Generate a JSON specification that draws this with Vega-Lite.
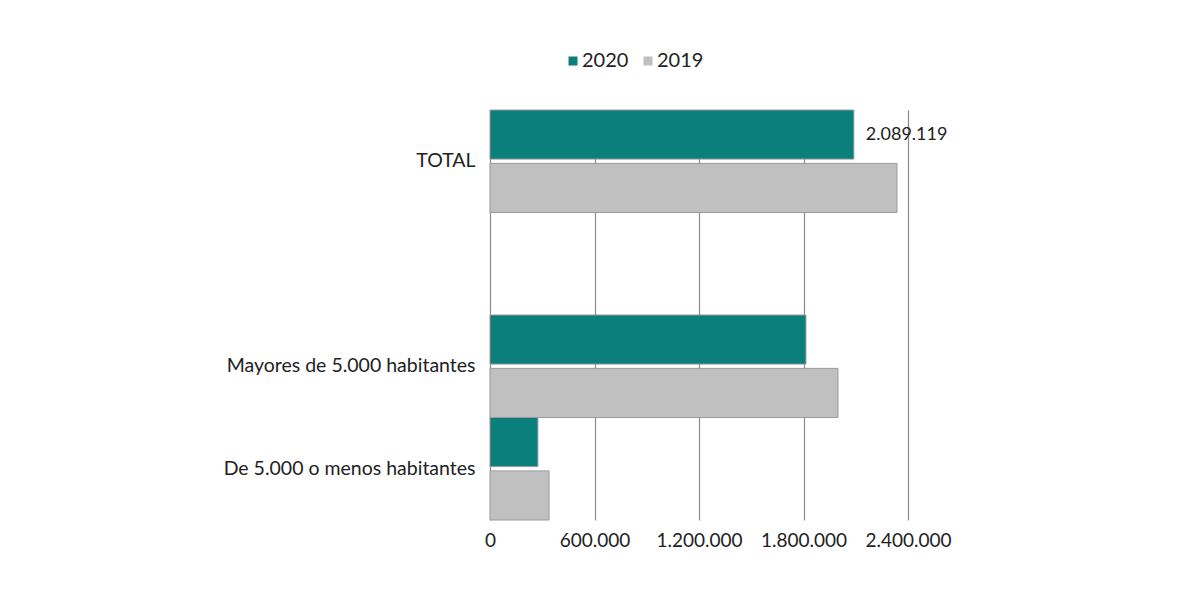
{
  "$schema": "https://vega.github.io/schema/vega-lite/v6.json",
  "width": 418,
  "height": 410,
  "autosize": {"type": "none"},
  "padding": {"left": 490, "top": 110, "right": 292, "bottom": 80},
  "background": "#ffffff",
  "config": {
    "locale": {"number": {"decimal": ",", "thousands": ".", "grouping": [3], "currency": ["", " €"]}},
    "font": "Lato",
    "view": {"stroke": null}
  },
  "data": {
    "values": [
      {"categoria": "TOTAL", "anio": "2020", "valor": 2089119},
      {"categoria": "TOTAL", "anio": "2019", "valor": 2337000},
      {"categoria": "Mayores de 5.000 habitantes", "anio": "2020", "valor": 1814000},
      {"categoria": "Mayores de 5.000 habitantes", "anio": "2019", "valor": 1998000},
      {"categoria": "De 5.000 o menos habitantes", "anio": "2020", "valor": 275119},
      {"categoria": "De 5.000 o menos habitantes", "anio": "2019", "valor": 339000}
    ]
  },
  "encoding": {
    "y": {
      "field": "categoria",
      "type": "nominal",
      "scale": {"domain": ["TOTAL", " ", "Mayores de 5.000 habitantes", "De 5.000 o menos habitantes"], "paddingInner": 0, "paddingOuter": 0},
      "axis": {"title": null, "domain": false, "ticks": false, "grid": false, "labelPadding": 15, "labelLimit": 0, "labelFontSize": 19.5, "labelColor": "#222222", "labelFont": "Lato"}
    },
    "yOffset": {
      "field": "anio",
      "type": "nominal",
      "scale": {"domain": ["2020", "2019"], "paddingInner": 0.08, "paddingOuter": 0}
    },
    "x": {
      "field": "valor",
      "type": "quantitative",
      "scale": {"domain": [0, 2400000], "nice": false, "zero": true},
      "axis": {"title": null, "domain": false, "ticks": false, "grid": true, "gridColor": "#8a8a8a", "gridWidth": 1.2, "values": [0, 600000, 1200000, 1800000, 2400000], "format": ",d", "labelFlush": false, "labelPadding": 11, "labelFontSize": 19, "labelColor": "#222222", "labelFont": "Lato"}
    }
  },
  "layer": [
    {
      "mark": {"type": "bar", "stroke": "#9a9a9a", "strokeWidth": 1},
      "encoding": {
        "color": {
          "field": "anio",
          "type": "nominal",
          "scale": {"domain": ["2020", "2019"], "range": ["#0A7F7B", "#C0C0C0"]},
          "legend": {
            "title": null,
            "orient": "none",
            "direction": "horizontal",
            "legendX": 73,
            "legendY": -59,
            "symbolType": "square",
            "symbolSize": 81,
            "symbolStrokeWidth": 0,
            "labelFontSize": 20,
            "labelColor": "#222222",
            "labelFont": "Lato",
            "labelOffset": -1,
            "columnPadding": 9
          }
        }
      }
    },
    {
      "transform": [{"filter": "datum.categoria === 'TOTAL' && datum.anio === '2020'"}],
      "mark": {"type": "text", "align": "left", "baseline": "middle", "dx": 12, "fontSize": 18, "color": "#222222", "font": "Lato"},
      "encoding": {
        "text": {"field": "valor", "type": "quantitative", "format": ",d"}
      }
    }
  ]
}
